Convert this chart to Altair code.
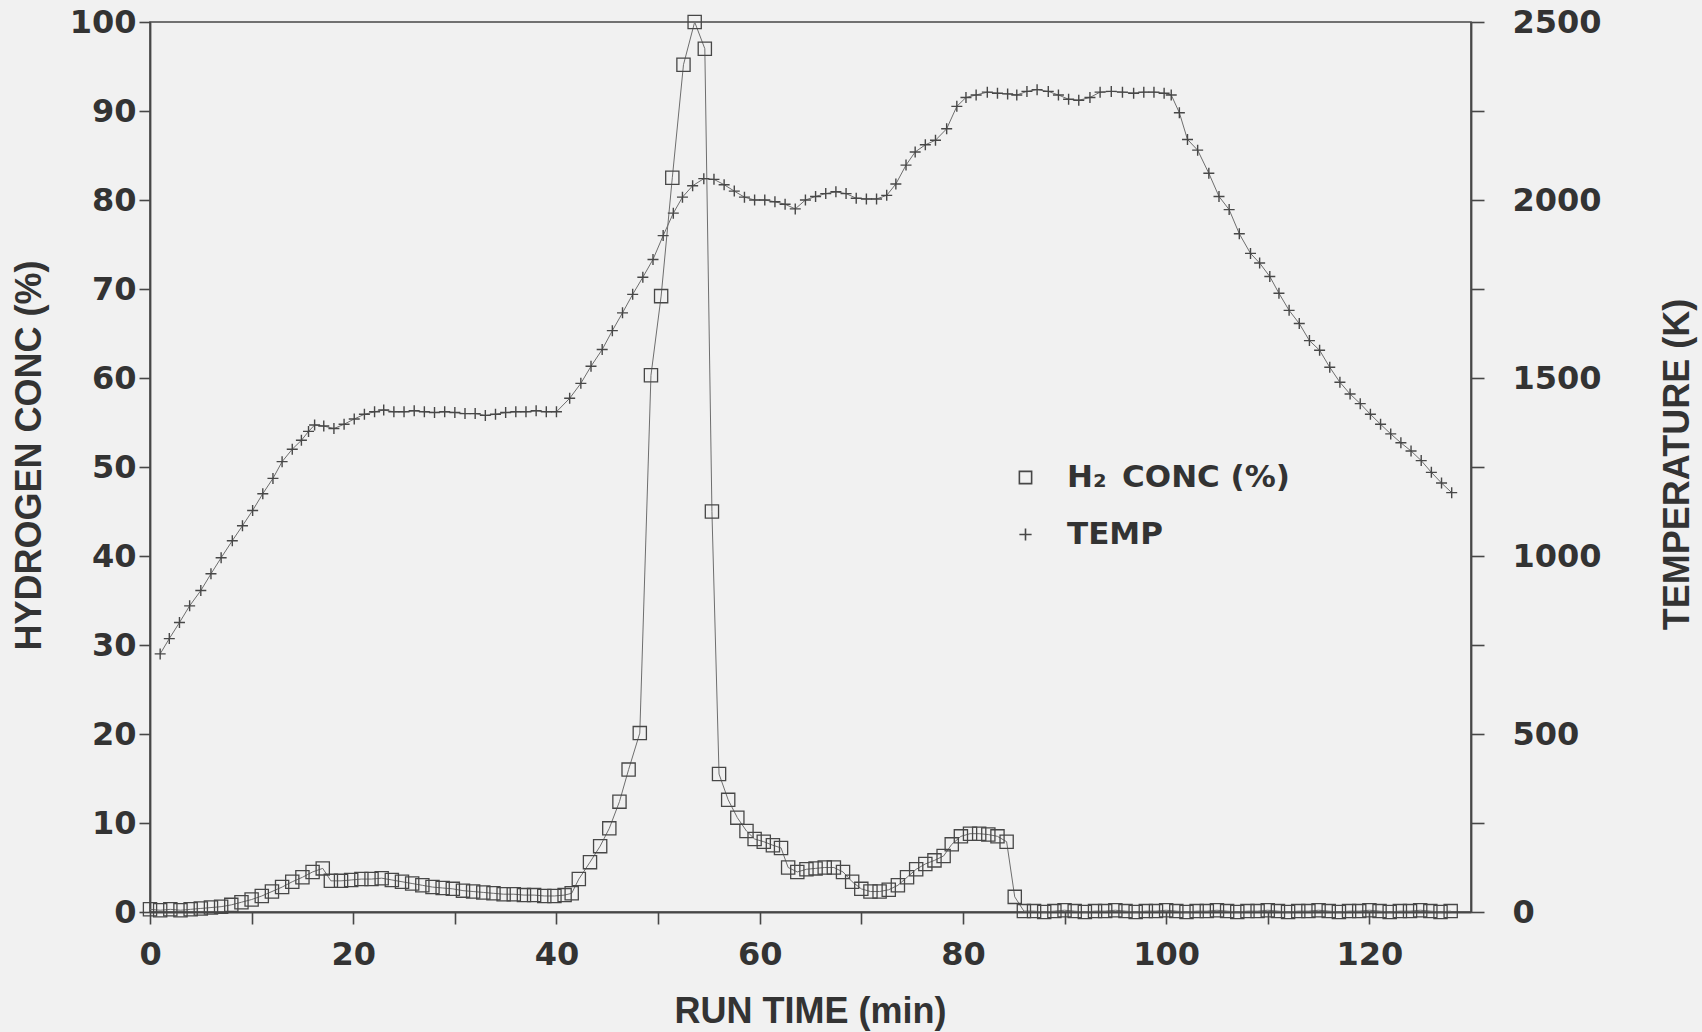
import altair as alt
import pandas as pd

# ---- hydrogen concentration (%) vs run time (min) ----
h2_time = [
    0, 1, 2, 3, 4, 5, 6, 7, 8, 9, 10, 11, 12, 13, 14, 15, 16, 17.0, 17.8,
    18.8, 19.8, 20.8, 21.8, 22.8, 23.8, 24.8, 25.8, 26.8, 27.8, 28.8, 29.8,
    30.8, 31.8, 32.8, 33.8, 34.8, 35.8, 36.8, 37.8, 38.8, 39.8, 40.8, 41.5,
    42.2, 43.3, 44.3, 45.2, 46.2, 47.1, 48.2, 49.3, 50.3, 51.4, 52.5, 53.6,
    54.6, 55.3, 56.0, 56.9, 57.8, 58.7, 59.5, 60.4, 61.3, 62.1, 62.8, 63.7,
    64.6, 65.5, 66.4, 67.3, 68.2, 69.1, 70.0, 70.9, 71.8, 72.7, 73.6, 74.5,
    75.4, 76.3, 77.2, 78.1, 78.9, 79.8, 80.7, 81.6, 82.5, 83.4, 84.3, 85.1,
    86.0, 87, 88, 89, 90, 91, 92, 93, 94, 95, 96, 97, 98, 99, 100, 101, 102,
    103, 104, 105, 106, 107, 108, 109, 110, 111, 112, 113, 114, 115, 116, 117,
    118, 119, 120, 121, 122, 123, 124, 125, 126, 127, 128,
]
h2_conc = [
    0.3, 0.2, 0.3, 0.2, 0.3, 0.4, 0.5, 0.6, 0.8, 1.1, 1.4, 1.8, 2.3, 2.8, 3.4, 3.9, 4.5, 4.9, 3.5,
    3.5, 3.6, 3.7, 3.7, 3.8, 3.6, 3.4, 3.2, 3.0, 2.8, 2.7, 2.6,
    2.4, 2.3, 2.2, 2.1, 2.0, 2.0, 1.9, 1.9, 1.8, 1.8, 1.9, 2.1,
    3.7, 5.6, 7.4, 9.4, 12.4, 16.0, 20.1, 60.3, 69.2, 82.5, 95.2, 100.0,
    97.0, 45.0, 15.5, 12.6, 10.6, 9.1, 8.2, 7.9, 7.5, 7.2, 5.0, 4.5,
    4.8, 4.9, 5.0, 5.0, 4.5, 3.4, 2.6, 2.3, 2.3, 2.5, 3.0, 3.9,
    4.8, 5.4, 5.8, 6.3, 7.6, 8.5, 8.8, 8.8, 8.7, 8.5, 7.9, 1.7,
    0.1, 0.1, 0.0, 0.1, 0.2, 0.1, 0.0, 0.1, 0.1, 0.2, 0.1, 0.0, 0.1, 0.1, 0.2, 0.1, 0.0,
    0.1, 0.1, 0.2, 0.1, 0.0, 0.1, 0.1, 0.2, 0.1, 0.0, 0.1, 0.1, 0.2, 0.1, 0.0,
    0.1, 0.1, 0.2, 0.1, 0.0, 0.1, 0.1, 0.2, 0.1, 0.0, 0.1,
]

# ---- temperature (K) vs run time (min) ----
temp_time = [
    1.0, 1.9, 2.9, 3.9, 5.0, 6.0, 7.0, 8.1, 9.1, 10.1, 11.1, 12.1, 13.0, 14.0,
    14.9, 15.6, 16.2, 17.1, 18.1, 19.1, 20.1, 21.1, 22.1, 23.0, 24.0, 25.0,
    26.0, 27.0, 28.0, 29.0, 30.0, 31.0, 32.0, 33.0, 34.0, 35.0, 36.0, 37.0,
    38.0, 39.0, 40.0, 41.3, 42.4, 43.4, 44.5, 45.5, 46.5, 47.5, 48.5, 49.5,
    50.5, 51.5, 52.4, 53.4, 54.5, 55.5, 56.5, 57.5, 58.5, 59.5, 60.5, 61.5,
    62.5, 63.5, 64.5, 65.5, 66.5, 67.5, 68.5, 69.5, 70.5, 71.5, 72.5, 73.4,
    74.4, 75.3, 76.3, 77.3, 78.4, 79.4, 80.3, 81.3, 82.4, 83.4, 84.4, 85.3,
    86.3, 87.3, 88.4, 89.4, 90.4, 91.4, 92.5, 93.5, 94.6, 95.7, 96.8, 97.8,
    98.8, 99.8, 100.5, 101.3, 102.1, 103.1, 104.2, 105.2, 106.2, 107.2,
    108.3, 109.2, 110.2, 111.1, 112.1, 113.1, 114.1, 115.1, 116.1, 117.1,
    118.1, 119.1, 120.1, 121.1, 122.1, 123.1, 124.1, 125.1, 126.1, 127.1, 128.1,
]
temp_k = [
    725, 768, 813, 860, 903, 950, 995, 1043, 1085, 1128, 1175, 1218, 1265, 1300,
    1325, 1350, 1368, 1365, 1358, 1370, 1385, 1398, 1405, 1410, 1405, 1405,
    1408, 1405, 1403, 1405, 1403, 1400, 1400, 1395, 1398, 1403, 1405, 1405,
    1408, 1405, 1405, 1443, 1485, 1533, 1580, 1633, 1683, 1735, 1783, 1833,
    1900, 1963, 2008, 2040, 2060, 2058, 2043, 2025, 2008, 2000, 2000, 1995,
    1988, 1975, 2000, 2010, 2018, 2023, 2018, 2005, 2003, 2003, 2013, 2045,
    2098, 2135, 2155, 2168, 2200, 2263, 2288, 2295, 2303, 2300, 2298, 2295,
    2305, 2310, 2305, 2295, 2283, 2280, 2288, 2303, 2305, 2303, 2300, 2303,
    2303, 2300, 2295, 2245, 2170, 2140, 2075, 2010, 1973, 1905,
    1850, 1823, 1785, 1738, 1690, 1653, 1605, 1578, 1530, 1488,
    1455, 1428, 1398, 1370, 1343, 1318, 1295, 1268, 1235, 1205, 1178,
]

H2_LABEL = "H\u2082\u2002CONC (%)"
TEMP_LABEL = "TEMP"

h2_df = pd.DataFrame({"t": h2_time, "v": h2_conc, "series": H2_LABEL})
temp_df = pd.DataFrame({"t": temp_time, "v": temp_k, "series": TEMP_LABEL})

INK = "#474747"
LINE_INK = "#6e6e6e"
PLUS = "M-1,0H1M0,-1V1"

shape_scale = alt.Scale(domain=[H2_LABEL, TEMP_LABEL], range=["square", PLUS])
legend = alt.Legend(
    title=None, orient="none", legendX=860, legendY=440,
    labelFont="DejaVu Sans", labelFontWeight="bold", labelFontSize=31,
    labelColor="#333333", labelLimit=0, symbolSize=150, symbolStrokeWidth=1.6,
    symbolStrokeColor=INK, symbolFillColor="transparent",
    labelOffset=26, rowPadding=25, padding=0,
)

x_enc = alt.X(
    "t:Q",
    scale=alt.Scale(domain=[0, 130], nice=False, zero=False),
    axis=alt.Axis(
        values=list(range(0, 121, 10)),
        labelExpr="datum.value % 20 == 0 ? datum.label : ''",
        labelFlush=False, tickSize=12, labelPadding=15,
        title="RUN TIME (min)", titleX=660, titleY=110,
        titleBaseline="alphabetic", titleAlign="center",
    ),
)

h2_y = alt.Y(
    "v:Q",
    scale=alt.Scale(domain=[0, 100], nice=False),
    axis=alt.Axis(
        orient="left", values=list(range(0, 101, 10)),
        labelFlush=False, tickSize=11, labelPadding=3,
        title="HYDROGEN CONC (%)", titleAngle=270, titleX=-121, titleY=433,
        titleAlign="center", titleBaseline="middle",
    ),
)

temp_y = alt.Y(
    "v:Q",
    scale=alt.Scale(domain=[0, 2500], nice=False),
    axis=alt.Axis(
        orient="right", values=list(range(0, 2501, 250)),
        labelExpr="datum.value % 500 == 0 ? datum.label : ''",
        format="d", labelFlush=False, tickSize=13, labelPadding=28, labelAlign="left",
        title="TEMPERATURE (K)", titleAngle=270, titleX=206, titleY=442,
        titleAlign="center", titleBaseline="middle",
    ),
)

h2_line = alt.Chart(h2_df).mark_line(color=LINE_INK, strokeWidth=1).encode(x=x_enc, y=h2_y)
h2_pts = alt.Chart(h2_df).mark_point(
    filled=False, color=INK, size=175, strokeWidth=1.3, opacity=1
).encode(x=x_enc, y=h2_y, shape=alt.Shape("series:N", scale=shape_scale, legend=legend))

temp_line = alt.Chart(temp_df).mark_line(color=LINE_INK, strokeWidth=1).encode(x=x_enc, y=temp_y)
temp_pts = alt.Chart(temp_df).mark_point(
    filled=False, color=INK, size=121, strokeWidth=1.4, opacity=1
).encode(x=x_enc, y=temp_y, shape=alt.Shape("series:N", scale=shape_scale, legend=legend))

h2_layer = alt.layer(h2_line, h2_pts)
temp_layer = alt.layer(temp_line, temp_pts)

chart = (
    alt.layer(h2_layer, temp_layer)
    .resolve_scale(y="independent")
    .properties(
        width=1321, height=890,
        autosize=alt.AutoSizeParams(type="none"),
        padding={"left": 150, "top": 22, "right": 231, "bottom": 120},
        background="#f1f1f1",
    )
    .configure_view(stroke=INK, strokeWidth=1.6, fill="#f1f1f1")
    .configure_axis(
        grid=False, domainColor=INK, domainWidth=1.8, tickColor=INK, tickWidth=1.6,
        labelFont="DejaVu Sans", labelFontWeight="bold", labelFontSize=32,
        labelColor="#333333", titleFont="Liberation Sans", titleFontWeight="bold",
        titleFontSize=36, titleColor="#333333",
    )
)

chart.save("out.html", embed_options={"renderer": "svg", "actions": False})
